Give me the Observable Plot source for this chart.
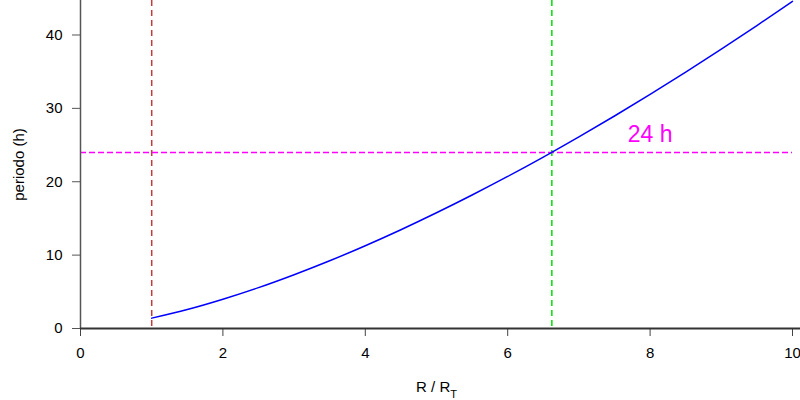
<!DOCTYPE html>
<html>
<head>
<meta charset="utf-8">
<script src="https://cdn.jsdelivr.net/npm/d3@7"></script>
<script src="https://cdn.jsdelivr.net/npm/@observablehq/plot@0.6"></script>
<style>
  html, body { margin: 0; padding: 0; background: #fff; }
  #chart svg { display: block; }
  #chart svg g[aria-label="x-axis tick label"] text,
  #chart svg g[aria-label="y-axis tick label"] text,
  #chart svg g[aria-label="x-axis label"] text,
  #chart svg g[aria-label="y-axis label"] text { font-size: 15px; }
</style>
</head>
<body>
<div id="chart"></div>
<script>
// Orbital radius (in Earth radii) and period (hours)
const radius = [1, 1.5, 2, 2.5, 3, 3.5, 4, 4.5, 5, 5.5, 6, 6.5, 7, 7.5, 8, 8.5, 9, 9.5, 10];
const period = [1.41, 2.59, 3.99, 5.57, 7.33, 9.23, 11.28, 13.46, 15.77, 18.19, 20.72, 23.36, 26.11, 28.96, 31.90, 34.94, 38.07, 41.29, 44.59];
const surfaceRadius = [1];
const geoRadius = [6.62];
const dayHours = [24];
const noteLabel = ["24 h"];
const noteX = [8.0];
const noteY = [26.4];
const xTicks = [0, 2, 4, 6, 8, 10];
const yTicks = [0, 10, 20, 30, 40];

const curve = radius.map((r, i) => ({r, t: period[i]}));
const note = noteLabel.map((s, i) => ({s, x: noteX[i], y: noteY[i]}));

const font = "'Liberation Sans', Arial, Helvetica, sans-serif";

const plot = Plot.plot({
  width: 800,
  height: 400,
  marginLeft: 80,
  marginRight: 8,
  marginTop: 0,
  marginBottom: 72,
  style: {fontFamily: font, fontSize: "15px", color: "#000", background: "#fff"},
  x: {domain: [0, 10]},
  y: {domain: [0, 44.7]},
  marks: [
    Plot.axisX({ticks: xTicks, tickSize: 8, tickPadding: 11, stroke: "#444", label: "R / RT", labelArrow: "none", labelAnchor: "center", labelOffset: 63, fontSize: 15}),
    Plot.axisY({ticks: yTicks, tickSize: 8, tickPadding: 10, stroke: "#555", label: "periodo (h)", labelArrow: "none", labelAnchor: "center", labelOffset: 67, fontSize: 15}),
    Plot.ruleX(surfaceRadius, {x: d => d, stroke: "#c23b3b", strokeWidth: 1.5, strokeDasharray: "6,4"}),
    Plot.ruleX(geoRadius, {x: d => d, stroke: "#00e000", strokeWidth: 1.5, strokeDasharray: "6,4"}),
    Plot.ruleY(dayHours, {y: d => d, x1: 0, x2: 10, stroke: "#ff00ff", strokeWidth: 1.5, strokeDasharray: "6,3"}),
    Plot.ruleX([0], {stroke: "#555", strokeWidth: 1.5}),
    Plot.ruleY([0], {x1: 0, x2: 10.12, stroke: "#333", strokeWidth: 2}),
    Plot.line(curve, {x: "r", y: "t", stroke: "#0000ff", strokeWidth: 1.5, curve: "natural"}),
    Plot.text(note, {x: "x", y: "y", text: "s", fill: "#ff00ff", fontSize: 23, textAnchor: "middle"})
  ]
});

document.getElementById("chart").appendChild(plot);

// Plain y label (no arrow) and subscript T in the x-axis label
d3.select(plot).select('g[aria-label="y-axis label"] text').text("periodo (h)");
const lab = d3.select(plot).select('g[aria-label="x-axis label"] text');
if (!lab.empty()) {
  lab.text(null);
  lab.append("tspan").text("R / R");
  lab.append("tspan").attr("baseline-shift", "sub").attr("font-size", "11px").text("T");
}
</script>
</body>
</html>
